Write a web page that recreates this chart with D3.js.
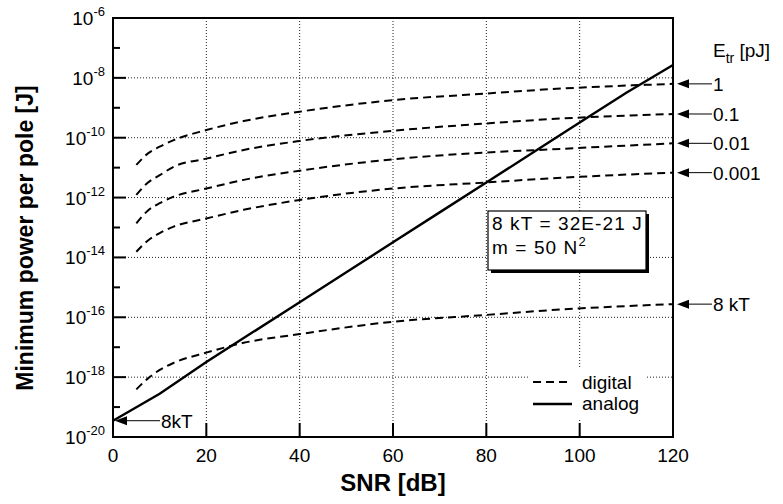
<!DOCTYPE html>
<html>
<head>
<meta charset="utf-8">
<script src="https://cdn.jsdelivr.net/npm/d3@7"></script>
<style>
  body { margin: 0; background: #fff; }
  svg { font-family: "Liberation Sans", Arial, sans-serif; }
</style>
</head>
<body>
<svg id="chart"></svg>
<script>
// values (energy in J, SNR in dB)
var snrDigital = [5, 7.5, 10, 13, 20, 28, 40, 60, 80, 94, 120];
var etr1    = [1.23e-11, 3.0e-11, 5.0e-11, 8.3e-11, 1.8e-10, 3.6e-10, 7.4e-10, 1.8e-9, 3.0e-9, 4.2e-9, 6.3e-9];
var etr01   = [1.23e-12, 3.2e-12, 5.6e-12, 1.07e-11, 2.0e-11, 3.9e-11, 7.8e-11, 1.7e-10, 3.0e-10, 4.2e-10, 6.2e-10];
var etr001  = [1.38e-13, 3.7e-13, 6.5e-13, 1.07e-12, 2.0e-12, 3.9e-12, 7.9e-12, 1.9e-11, 3.2e-11, 4.1e-11, 6.5e-11];
var etr0001 = [1.55e-14, 3.7e-14, 6.5e-14, 1.07e-13, 2.0e-13, 3.9e-13, 8.3e-13, 2.0e-12, 3.2e-12, 4.4e-12, 6.8e-12];
var etr8kT  = [3.9e-19, 9.1e-19, 1.74e-18, 3.0e-18, 6.6e-18, 1.4e-17, 2.75e-17, 7.1e-17, 1.2e-16, 1.74e-16, 2.75e-16];

var snrAnalog = [0, 10, 20, 30, 40, 50, 60, 70, 80, 90, 100, 110, 120];
var analog = [3.5e-20, 2.8e-19, 3.2e-18, 3.2e-17, 3.2e-16, 3.2e-15, 3.2e-14, 3.2e-13, 3.2e-12, 3.2e-11, 3.2e-10, 3.2e-9, 2.7e-8];

var digitalSeries = [etr1, etr01, etr001, etr0001, etr8kT];
var digitalLabels = ["1", "0.1", "0.01", "0.001", "8 kT"];

var xTicks = [0, 20, 40, 60, 80, 100, 120];
var yMajorExp = [-6, -8, -10, -12, -14, -16, -18, -20];
var yMinorExp = [-7, -9, -11, -13, -15, -17, -19];

var plotLeft = 113, plotRight = 673, plotTop = 18, plotBottom = 437;

var svg = d3.select("#chart").attr("width", 783).attr("height", 504);

var x = d3.scaleLinear().domain([0, 120]).range([plotLeft, plotRight]);
var y = d3.scaleLog().domain([1e-20, 1e-6]).range([plotBottom, plotTop]);

// dotted grid
var grid = svg.append("g").attr("stroke", "#222").attr("stroke-width", 1)
  .attr("stroke-dasharray", "1,2");
grid.selectAll(".gx").data(xTicks.slice(1, -1)).enter().append("line")
  .attr("x1", d => x(d)).attr("x2", d => x(d))
  .attr("y1", plotTop).attr("y2", plotBottom);
grid.selectAll(".gy").data(yMajorExp.slice(1, -1)).enter().append("line")
  .attr("x1", plotLeft).attr("x2", plotRight)
  .attr("y1", d => y(Math.pow(10, d))).attr("y2", d => y(Math.pow(10, d)));

// inward ticks
var ticks = svg.append("g").attr("stroke", "#000").attr("stroke-width", 2);
ticks.selectAll(".tx").data(xTicks).enter().append("line")
  .attr("x1", d => x(d)).attr("x2", d => x(d))
  .attr("y1", plotBottom).attr("y2", plotBottom - 14);
ticks.selectAll(".ty").data(yMajorExp).enter().append("line")
  .attr("x1", plotLeft).attr("x2", plotLeft + 13)
  .attr("y1", d => y(Math.pow(10, d))).attr("y2", d => y(Math.pow(10, d)));
ticks.selectAll(".tm").data(yMinorExp).enter().append("line")
  .attr("x1", plotLeft).attr("x2", plotLeft + 7)
  .attr("y1", d => y(Math.pow(10, d))).attr("y2", d => y(Math.pow(10, d)));

// tick labels
svg.selectAll(".xl").data(xTicks).enter().append("text")
  .attr("x", d => x(d)).attr("y", 462)
  .attr("text-anchor", "middle").attr("font-size", 19).text(d => d);

var yl = svg.selectAll(".yl").data(yMajorExp).enter().append("text")
  .attr("x", 105).attr("y", d => y(Math.pow(10, d)) + 7)
  .attr("text-anchor", "end").attr("font-size", 19);
yl.append("tspan").text("10");
yl.append("tspan").attr("font-size", 13).attr("dy", -9).text(d => d);

// axis titles
svg.append("text").attr("x", 393).attr("y", 491)
  .attr("text-anchor", "middle").attr("font-size", 24).attr("font-weight", "bold")
  .text("SNR [dB]");
svg.append("text").attr("transform", "translate(33,238) rotate(-90)")
  .attr("text-anchor", "middle").attr("font-size", 23).attr("font-weight", "bold")
  .text("Minimum power per pole [J]");

// curves
var straight = d3.line().x(d => x(d[0])).y(d => y(d[1]));
var smooth = d3.line().curve(d3.curveMonotoneX).x(d => x(d[0])).y(d => y(d[1]));

digitalSeries.forEach(function(s) {
  svg.append("path").datum(d3.zip(snrDigital, s))
    .attr("d", smooth).attr("fill", "none").attr("stroke", "#000")
    .attr("stroke-width", 2).attr("stroke-dasharray", "8,5");
});
svg.append("path").datum(d3.zip(snrAnalog, analog))
  .attr("d", straight).attr("fill", "none").attr("stroke", "#000").attr("stroke-width", 2.4);

// arrow labels
function arrow(x0, yy, x1) {
  svg.append("path")
    .attr("d", "M" + x0 + "," + yy + "l12,-4.5v9z").attr("fill", "#000");
  svg.append("line").attr("x1", x0 + 10).attr("x2", x1)
    .attr("y1", yy).attr("y2", yy).attr("stroke", "#000").attr("stroke-width", 1);
}
digitalSeries.forEach(function(s, i) {
  var yy = y(s[s.length - 1]);
  arrow(677, yy, 712);
  svg.append("text").attr("x", 713).attr("y", yy + 7)
    .attr("font-size", 19).text(digitalLabels[i]);
});

var et = svg.append("text").attr("x", 713).attr("y", 57).attr("font-size", 19);
et.append("tspan").text("E");
et.append("tspan").attr("font-size", 14).attr("dy", 6).text("tr");
et.append("tspan").attr("dy", -6).text(" [pJ]");

arrow(115, y(analog[0]), 160);
svg.append("text").attr("x", 161).attr("y", y(analog[0]) + 7)
  .attr("font-size", 19).text("8kT");

// parameter box with shadow
svg.append("rect").attr("x", 491).attr("y", 214).attr("width", 158).attr("height", 59).attr("fill", "#000");
svg.append("rect").attr("x", 488).attr("y", 211).attr("width", 158).attr("height", 59)
  .attr("fill", "#fff").attr("stroke", "#000").attr("stroke-width", 1.2);
svg.append("text").attr("x", 492).attr("y", 230).attr("font-size", 19)
  .attr("letter-spacing", 1.1).text("8 kT = 32E-21 J");
var mText = svg.append("text").attr("x", 492).attr("y", 254).attr("font-size", 19).attr("letter-spacing", 1.1);
mText.append("tspan").text("m = 50 N");
mText.append("tspan").attr("font-size", 13).attr("dy", -8).text("2");

// legend
svg.append("rect").attr("x", 530).attr("y", 368).attr("width", 115).attr("height", 52).attr("fill", "#fff");
svg.append("line").attr("x1", 533).attr("x2", 570).attr("y1", 382).attr("y2", 382)
  .attr("stroke", "#000").attr("stroke-width", 2).attr("stroke-dasharray", "8,5");
svg.append("line").attr("x1", 533).attr("x2", 572).attr("y1", 404).attr("y2", 404)
  .attr("stroke", "#000").attr("stroke-width", 2.4);
svg.append("text").attr("x", 582).attr("y", 389).attr("font-size", 19).text("digital");
svg.append("text").attr("x", 582).attr("y", 410).attr("font-size", 19).text("analog");

// plot frame as a closed path
svg.append("path")
  .attr("d", "M" + plotLeft + "," + plotTop + "H" + plotRight + "V" + plotBottom + "H" + plotLeft + "Z")
  .attr("fill", "none").attr("stroke", "#000").attr("stroke-width", 2);
</script>
</body>
</html>
